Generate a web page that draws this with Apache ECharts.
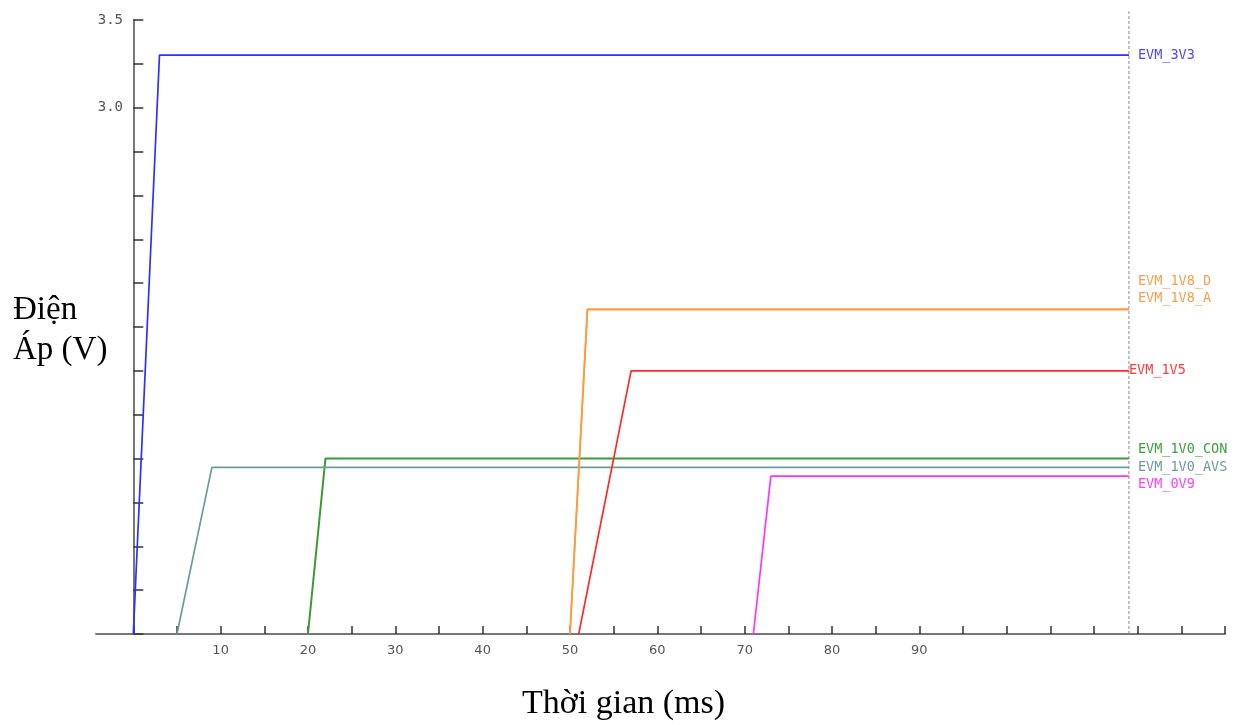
<!DOCTYPE html>
<html>
<head>
<meta charset="utf-8">
<script src="https://cdn.jsdelivr.net/npm/echarts@6/dist/echarts.min.js"></script>
<style>
html,body{margin:0;padding:0;background:#fff;}
#chart{width:1237px;height:725px;}
</style>
</head>
<body>
<div id="chart"></div>
<script>
// ---- data ----
const seriesNames  = ['EVM_1V0_CON', 'EVM_1V0_AVS', 'EVM_1V8_D', 'EVM_1V8_A', 'EVM_1V5', 'EVM_0V9', 'EVM_3V3'];
const startTimes   = [20, 5, 50, 50, 51, 71, 0];      // ms, rail starts rising
const rampEndTimes = [22, 9, 52, 52, 57, 73, 3];      // ms, rail reaches level
const levels       = [1.0, 0.95, 1.85, 1.85, 1.5, 0.9, 3.3]; // V
const endTime = 114;          // ms, cursor / end of traces
const cursorTop = 3.55;       // V, top of cursor line
const xTickValues  = [0,5,10,15,20,25,30,35,40,45,50,55,60,65,70,75,80,85,90,95,100,105,110,115,120,125];
const xLabelValues = [10,20,30,40,50,60,70,80,90];
const yTickValues  = [0,0.25,0.5,0.75,1,1.25,1.5,1.75,2,2.25,2.5,2.75,3,3.25,3.5];
const yLabelValues = [3.0,3.5];

// ---- styles ----
const colors = {
  'EVM_1V0_CON': {line:'#3a9a3a', label:'#3f9f3f', offset:[0,-9], width:2},
  'EVM_1V0_AVS': {line:'#6a9c9c', label:'#6f9a9a', offset:[0,0], width:1.7},
  'EVM_1V8_D':   {line:'#ff9a3a', label:'#f5a050', offset:[0,-28], width:1.7},
  'EVM_1V8_A':   {line:'#ff9a3a', label:'#f5a050', offset:[0,-11], width:1.7},
  'EVM_1V5':     {line:'#ff2a2a', label:'#ff3a3a', offset:[-9,0], width:1.7},
  'EVM_0V9':     {line:'#ff33ff', label:'#ff40ff', offset:[0,8], width:1.7},
  'EVM_3V3':     {line:'#2f2fff', label:'#4a4aff', offset:[0,0], width:1.7}
};
const mono = '"DejaVu Sans Mono", monospace';
const serif = '"Liberation Serif", "Times New Roman", serif';

const series = seriesNames.map((name, i) => ({
  name: name,
  type: 'line',
  symbol: 'none',
  animation: false,
  data: [[startTimes[i], 0], [rampEndTimes[i], levels[i]], [endTime, levels[i]]],
  lineStyle: {color: colors[name].line, width: colors[name].width},
  endLabel: {
    show: true,
    formatter: name,
    color: colors[name].label,
    fontFamily: mono,
    fontSize: 13.5,
    distance: 9,
    offset: colors[name].offset
  },
  z: 3
}));

series.push({
  name: 'cursor',
  type: 'line',
  symbol: 'none',
  animation: false,
  clip: false,
  data: [[endTime, 0], [endTime, cursorTop]],
  lineStyle: {color: '#8a8a8a', width: 1, type: [3, 2]},
  z: 2
});

const chart = echarts.init(document.getElementById('chart'), null, {renderer: 'canvas'});
chart.setOption({
  backgroundColor: '#ffffff',
  animation: false,
  grid: {left: 96, top: 20, width: 1129, height: 614},
  xAxis: {
    type: 'value',
    min: -4.27,
    max: 125,
    splitLine: {show: false},
    axisLine: {show: true, onZero: true, lineStyle: {color: '#777', width: 2}},
    axisTick: {show: true, inside: true, length: 8, customValues: xTickValues,
               lineStyle: {color: '#333', width: 1.5}},
    axisLabel: {show: true, customValues: xLabelValues, margin: 10,
                color: '#555', fontFamily: '"DejaVu Sans", sans-serif', fontSize: 13}
  },
  yAxis: {
    type: 'value',
    min: 0,
    max: 3.5,
    splitLine: {show: false},
    axisLine: {show: true, onZero: true, lineStyle: {color: '#777', width: 2}},
    axisTick: {show: true, inside: true, length: 10, customValues: yTickValues,
               lineStyle: {color: '#333', width: 1.5}},
    axisLabel: {show: true, customValues: yLabelValues, margin: -27,
                formatter: v => Number(v).toFixed(1),
                color: '#555', fontFamily: mono, fontSize: 14}
  },
  graphic: [
    {type: 'text', left: 13, top: 294,
     style: {text: 'Điện', fill: '#000', font: '33px ' + serif}},
    {type: 'text', left: 13, top: 334,
     style: {text: 'Áp (V)', fill: '#000', font: '33px ' + serif}},
    {type: 'text', left: 522, top: 687,
     style: {text: 'Thời gian (ms)', fill: '#000', font: '34px ' + serif}}
  ],
  series: series
});
</script>
</body>
</html>
